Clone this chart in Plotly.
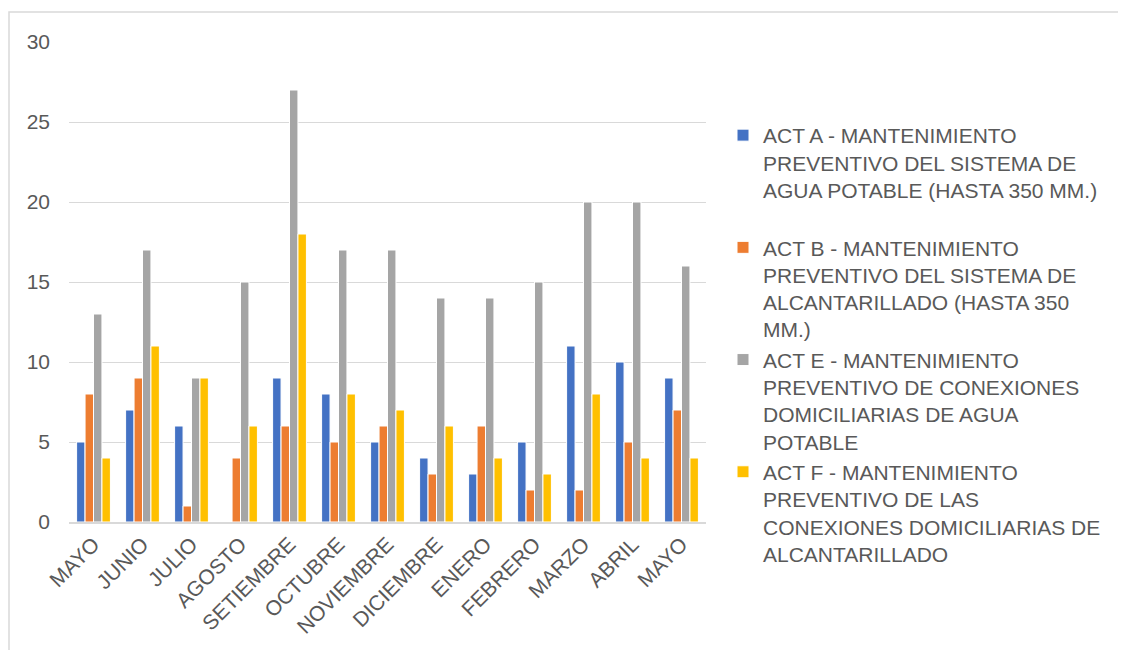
import plotly.graph_objects as go

months = ["MAYO", "JUNIO", "JULIO", "AGOSTO", "SETIEMBRE", "OCTUBRE", "NOVIEMBRE",
          "DICIEMBRE", "ENERO", "FEBRERO", "MARZO", "ABRIL", "MAYO"]
act_a = [5, 7, 6, 0, 9, 8, 5, 4, 3, 5, 11, 10, 9]
act_b = [8, 9, 1, 4, 6, 5, 6, 3, 6, 2, 2, 5, 7]
act_e = [13, 17, 9, 15, 27, 17, 17, 14, 14, 15, 20, 20, 16]
act_f = [4, 11, 9, 6, 18, 8, 7, 6, 4, 3, 8, 4, 4]

names = [
    "ACT A - MANTENIMIENTO<br>PREVENTIVO DEL SISTEMA DE<br>AGUA POTABLE (HASTA 350 MM.)<br> ",
    "ACT B - MANTENIMIENTO<br>PREVENTIVO DEL SISTEMA DE<br>ALCANTARILLADO (HASTA 350<br>MM.)",
    "ACT E - MANTENIMIENTO<br>PREVENTIVO DE CONEXIONES<br>DOMICILIARIAS DE AGUA<br>POTABLE",
    "ACT F - MANTENIMIENTO<br>PREVENTIVO DE LAS<br>CONEXIONES DOMICILIARIAS DE<br>ALCANTARILLADO",
]
colors = ["#4472C4", "#ED7D31", "#A5A5A5", "#FFC000"]
series = [act_a, act_b, act_e, act_f]

x = list(range(len(months)))

fig = go.Figure()
for name, col, vals in zip(names, colors, series):
    fig.add_trace(go.Bar(x=x, y=vals, name=name,
                         marker=dict(color=col, line=dict(color="white", width=1))))

# page is offset by the 8px body margin
OFF = 8
W, H = 1126, 650
L, T = 69 - OFF, 42 - OFF
pw, ph = 637, 480
R, B = W - L - pw, H - T - ph

def px(xp):  # page x -> paper
    return (xp - OFF - L) / pw

def py(yp):  # page y -> paper
    return (H - B - (yp - OFF)) / ph

fig.update_layout(
    width=W, height=H,
    margin=dict(l=L, r=R, t=T, b=B, autoexpand=False),
    paper_bgcolor="white", plot_bgcolor="white",
    font=dict(family="Liberation Sans, Arial, sans-serif", size=21, color="#595959"),
    barmode="group", bargap=0.31, bargroupgap=0,
    showlegend=True,
    legend=dict(x=px(723), y=py(115), xanchor="left", yanchor="top",
                font=dict(size=21, color="#595959"), valign="top",
                tracegroupgap=0, itemclick=False),
    shapes=[dict(type="rect", xref="paper", yref="paper",
                 x0=px(9), x1=px(1160), y0=py(680), y1=py(12),
                 line=dict(color="#d9d9d9", width=1.5), fillcolor="rgba(0,0,0,0)",
                 layer="below")],
)
fig.update_xaxes(tickmode="array", tickvals=x, ticktext=months, tickangle=-45,
                 range=[-0.5, len(months) - 0.5], showgrid=False, zeroline=False,
                 showline=True, linecolor="#d9d9d9", linewidth=1.5, ticks="",
                 tickfont=dict(size=21, color="#595959"))
fig.update_yaxes(range=[0, 30], dtick=5, showgrid=True, gridcolor="#d9d9d9",
                 gridwidth=1.3, zeroline=False, showline=False, ticks="",
                 ticklabelstandoff=18, tickfont=dict(size=21, color="#595959"))

fig.write_html("out.html")
